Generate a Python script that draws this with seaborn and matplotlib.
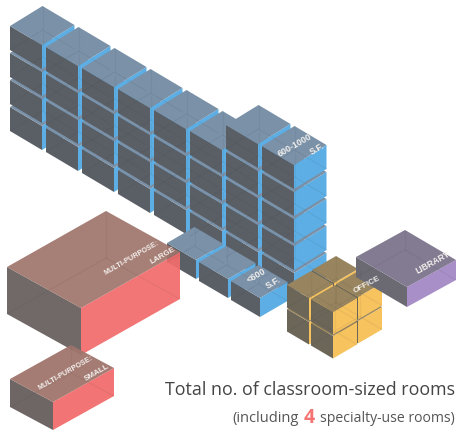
import matplotlib
matplotlib.use('Agg')
import matplotlib.pyplot as plt
import seaborn as sns

# Rooms per column of the big wall, then the other groups
wall_rows = [4, 4, 4, 4, 4, 4, 5, 5]
small_rooms = 3
office_layers = 2
office_cells = [(0, 1), (0, 0), (1, 1), (1, 0)]

title_text = 'Total no. of classroom-sized rooms'
sub_before = '(including'
sub_count = '4'
sub_after = 'specialty-use rooms)'

# Colours: top, left, right face
blue = ['#7a91a8', '#5a5f66', '#5caee4']
red = ['#9f756c', '#665e5c', '#f36c6c']
yellow = ['#98855f', '#6c6659', '#f7c35f']
purple = ['#837b92', '#6b6a73', '#a88fc8']

sns.set_theme(style='white')
plt.rcParams['font.family'] = ['Open Sans', 'DejaVu Sans']

fig = plt.figure(figsize=(4.58, 4.32), dpi=100)
ax = fig.add_axes([0, 0, 1, 1])
ax.set_xlim(0, 458)
ax.set_ylim(432, 0)
ax.axis('off')


def box(left, u, v, h, colors, alpha=1.0):
    # left = left corner of the top face, u goes down-right, v goes up-right
    x, y = left
    front = (x + u[0], y + u[1])
    right = (front[0] + v[0], front[1] + v[1])
    apex = (x + v[0], y + v[1])
    low = lambda p: (p[0], p[1] + h)

    ax.fill(*zip(left, front, low(front), low(left)), color=colors[1], lw=0, alpha=alpha)
    ax.fill(*zip(front, right, low(right), low(front)), color=colors[2], lw=0, alpha=alpha)
    ax.fill(*zip(left, apex, right, front), color=colors[0], lw=0, alpha=alpha)

    # the boxes look see-through, so show the hidden back edges faintly
    back = low(apex)
    ax.plot(*zip(low(left), back, low(right)), color='#333333', lw=0.8, alpha=0.08)
    ax.plot(*zip(apex, back), color='#333333', lw=0.8, alpha=0.06)


# Big wall, back to front
for k, rows in enumerate(wall_rows):
    for r in range(rows):
        box((10 + 36 * k, 107 + 21 * k - 27 * r),
            (32, 19), (32.5, -20), 24, blue)

# Small rooms
for k in range(small_rooms):
    box((167 + 32 * k, 243 + 19 * k), (29, 17), (27.5, -16), 19, blue)

# Multi-purpose rooms
box((7, 267), (74, 41), (99, -56), 47, red, alpha=0.93)
box((10, 379), (43, 23), (61, -34), 28, red, alpha=0.95)

# Office
for layer in range(office_layers):
    for i, j in office_cells:
        box((287 + 24 * i + 25 * j, 309 - 24 * layer + 14 * i - 15 * j),
            (22, 13), (24, -14), 22.5, yellow)

# Library
box((356, 257), (51, 30), (49, -27), 20, purple)

# Labels lying on the top faces
face_labels = [
    ('600-1000', 295, 145, 30, 6.4), ('S.F.', 317.5, 148.5, 30, 6.4),
    ('<600', 256.5, 276, 30, 6.6), ('S.F.', 273, 283, 30, 6.6),
    ('OFFICE', 366.5, 285, 28, 5.8), ('LIBRARY', 432.5, 263, 29, 6.2),
    ('MULTI-PURPOSE:', 131.5, 258.5, 30, 5.2), ('LARGE', 162.5, 255.5, 30, 5.8),
    ('MULTI-PURPOSE:', 66, 373.5, 30, 5.2), ('SMALL', 96.5, 372.5, 30, 5.8),
]
for label, x, y, angle, size in face_labels:
    ax.text(x, y, label, color='#f3efec', fontsize=size, rotation=angle, weight='bold',
            rotation_mode='anchor', ha='center', va='center',
            family=['Liberation Sans', 'DejaVu Sans'])

# Caption
ax.text(165, 395, title_text, color='#444444', fontsize=12.9, va='baseline')
ax.text(232, 422, sub_before, color='#555555', fontsize=10.5, va='baseline')
ax.text(304, 423, sub_count, color='#f47474', fontsize=14, weight='bold', va='baseline')
ax.text(320, 422, sub_after, color='#555555', fontsize=10.1, va='baseline')

sns.despine(fig=fig, left=True, bottom=True)
fig.savefig('out.png', dpi=100, facecolor='white')
